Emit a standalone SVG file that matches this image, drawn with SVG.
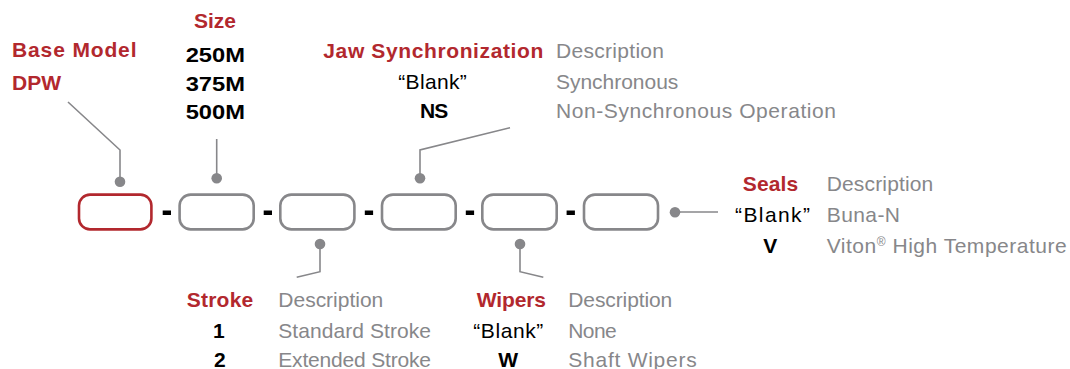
<svg xmlns="http://www.w3.org/2000/svg" width="1070" height="369" viewBox="0 0 1070 369">
<style>
text{font-family:"Liberation Sans",Arial,sans-serif;font-size:21px}
.h{fill:#b2282e;font-weight:bold}
.c{fill:#000;font-weight:bold}
.q{fill:#000}
.d{fill:#87878a}
.box{fill:#fff;stroke:#87878a;stroke-width:2.6}
.red{stroke:#b2282e}
.dash{fill:#000}
.ln{fill:none;stroke:#87878a;stroke-width:1.6}
.dot{fill:#87878a}
</style>
<rect width="1070" height="369" fill="#fff"/>
<g id="connectors">
<polyline class="ln" points="68,102 120,150 120,182"/>
<polyline class="ln" points="216.7,139 216.7,178"/>
<polyline class="ln" points="510,127.7 420,150 420,178"/>
<polyline class="ln" points="320,244 320,271.7 296.7,277.3"/>
<polyline class="ln" points="520,244 520,271.7 543.3,277.3"/>
<polyline class="ln" points="675,212 718,212"/>
<circle class="dot" cx="120" cy="181.7" r="5.3"/>
<circle class="dot" cx="216.7" cy="178.3" r="5.3"/>
<circle class="dot" cx="420" cy="178.3" r="5.3"/>
<circle class="dot" cx="320" cy="244" r="5.3"/>
<circle class="dot" cx="520" cy="244" r="5.3"/>
<circle class="dot" cx="675" cy="212.3" r="5.3"/>
<rect class="dash" x="162.7" y="210.5" width="8.3" height="4.5"/>
<rect class="dash" x="263.7" y="210.5" width="8.3" height="4.5"/>
<rect class="dash" x="364.8" y="210.5" width="8.3" height="4.5"/>
<rect class="dash" x="465.8" y="210.5" width="8.3" height="4.5"/>
<rect class="dash" x="566.6" y="210.5" width="8.3" height="4.5"/>
</g>
<g id="box-base"><rect class="box red" x="79" y="194.6" width="72.4" height="34.8" rx="11"/></g>
<g id="box-size"><rect class="box" x="179.6" y="194.6" width="74.1" height="34.8" rx="11"/></g>
<g id="box-stroke"><rect class="box" x="280.3" y="194.6" width="74.1" height="34.8" rx="11"/></g>
<g id="box-jaw"><rect class="box" x="382" y="194.6" width="73.7" height="34.8" rx="11"/></g>
<g id="box-wipers"><rect class="box" x="482.3" y="194.6" width="74.4" height="34.8" rx="11"/></g>
<g id="box-seals"><rect class="box" x="584" y="194.6" width="74" height="34.8" rx="11"/></g>
<g id="base-model">
<text class="h" x="12" y="57.3" textLength="124.5">Base Model</text>
<text class="h" x="12" y="90" textLength="49">DPW</text>
</g>
<g id="size">
<text class="h" x="194" y="28.3" textLength="42">Size</text>
<text class="c" x="185.7" y="61.7" textLength="59.3" lengthAdjust="spacingAndGlyphs">250M</text>
<text class="c" x="185.7" y="90.7" textLength="59.3" lengthAdjust="spacingAndGlyphs">375M</text>
<text class="c" x="185.7" y="119.3" textLength="59.3" lengthAdjust="spacingAndGlyphs">500M</text>
</g>
<g id="jaw">
<text class="h" x="323.3" y="57.7" textLength="220">Jaw Synchronization</text>
<text class="d" x="556" y="57.7" textLength="108">Description</text>
<text class="q" x="398.3" y="88.8" textLength="68.4">“Blank”</text>
<text class="d" x="556" y="89.3" textLength="122.3">Synchronous</text>
<text class="c" x="420" y="118.3" textLength="28.3">NS</text>
<text class="d" x="556" y="118.3" textLength="280">Non-Synchronous Operation</text>
</g>
<g id="seals">
<text class="h" x="742.7" y="191" textLength="55.6">Seals</text>
<text class="d" x="826.7" y="191" textLength="106.6">Description</text>
<text class="q" x="735" y="222.3" textLength="75">“Blank”</text>
<text class="d" x="826.7" y="222.3" textLength="73.3">Buna-N</text>
<text class="c" x="763.3" y="253.3" textLength="18.4">V</text>
<text class="d" x="826.7" y="253.3" textLength="240">Viton<tspan font-size="12" dy="-7">®</tspan><tspan dy="7"> High Temperature</tspan></text>
</g>
<g id="stroke">
<text class="h" x="186.7" y="306.7" textLength="66.6">Stroke</text>
<text class="d" x="278.3" y="306.7" textLength="105">Description</text>
<text class="c" x="213" y="338.3">1</text>
<text class="d" x="278.3" y="338.3" textLength="152.7">Standard Stroke</text>
<text class="c" x="214" y="366.5">2</text>
<text class="d" x="278.3" y="366.5" textLength="152.7">Extended Stroke</text>
</g>
<g id="wipers">
<text class="h" x="476.7" y="306.7" textLength="69.3">Wipers</text>
<text class="d" x="568.3" y="306.7" textLength="104">Description</text>
<text class="q" x="473.3" y="338.3" textLength="70">“Blank”</text>
<text class="d" x="568.3" y="338.3" textLength="48.4">None</text>
<text class="c" x="498.3" y="366.5" textLength="19">W</text>
<text class="d" x="568.3" y="366.5" textLength="128.4">Shaft Wipers</text>
</g>
</svg>
